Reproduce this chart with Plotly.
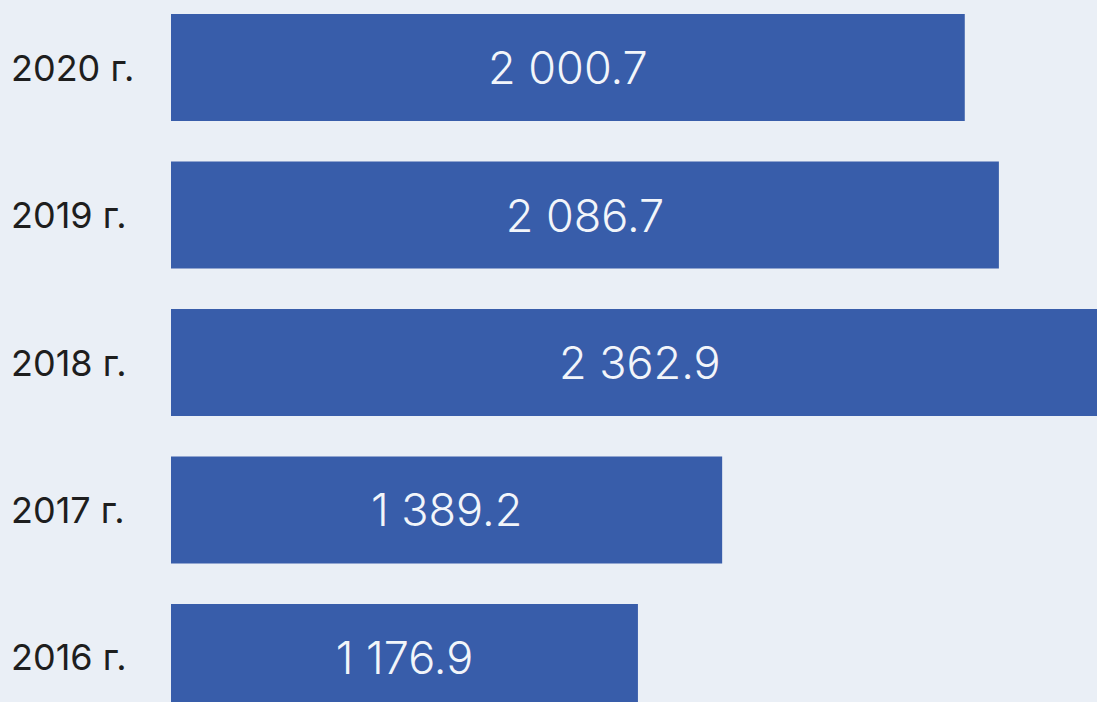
import plotly.graph_objects as go

years = ["2016 г.", "2017 г.", "2018 г.", "2019 г.", "2020 г."]
values = [1176.9, 1389.2, 2362.9, 2086.7, 2000.7]

BG = "#EAEFF6"
BAR = "#385DAA"

def fmt(v):
    s = f"{v:,.1f}".replace(",", " ")
    return s

fig = go.Figure()
fig.add_trace(go.Bar(
    x=values, y=years, orientation="h",
    marker=dict(color=BAR, line=dict(width=0)),
    width=0.725,
    text=[fmt(v) for v in values],
    textposition="inside", insidetextanchor="middle",
    textfont=dict(family="Inter", size=45, color="#F2F5FA", weight=300),
    textangle=0,
    hoverinfo="skip",
))

for y in years:
    fig.add_annotation(
        x=(9 - 171) / 926, xref="paper", y=y, yref="y",
        text=y, showarrow=False, xanchor="left", yanchor="middle",
        font=dict(family="Inter", size=36, color="#1E1E1E"),
    )

fig.update_layout(
    width=1097, height=702,
    margin=dict(l=171, r=0, t=0, b=0),
    paper_bgcolor=BG, plot_bgcolor=BG,
    showlegend=False,
    uniformtext=dict(mode=False),
    xaxis=dict(range=[0, 2334], visible=False, fixedrange=True),
    yaxis=dict(range=[-0.302, 4.458], visible=False, fixedrange=True,
               categoryorder="array", categoryarray=years),
    bargap=0.275,
)

fig.write_html(
    "out.html",
    config={"displayModeBar": False},
    post_script="document.body.style.margin='0';document.body.style.background='#EAEFF6';document.body.style.overflow='hidden';",
)
